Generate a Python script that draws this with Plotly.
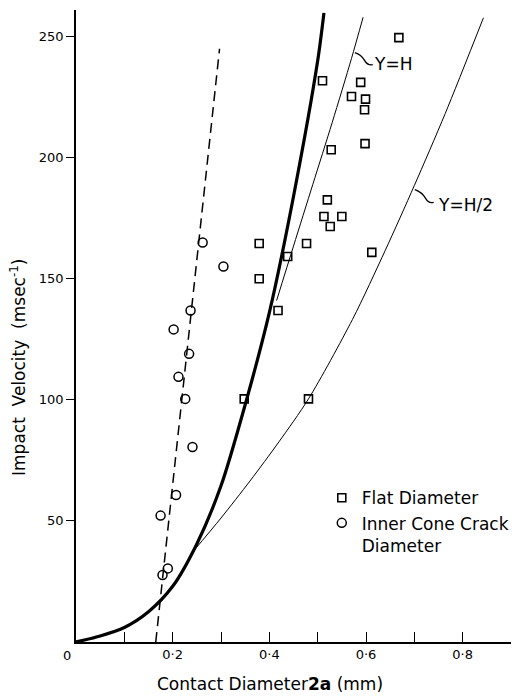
import plotly.graph_objects as go

# ---------------- data ----------------
# Flat diameter (squares)
flat_x = [0.668, 0.510, 0.589, 0.570, 0.599, 0.597, 0.528, 0.598, 0.520, 0.513,
          0.550, 0.526, 0.379, 0.477, 0.612, 0.438, 0.379, 0.418, 0.348, 0.481]
flat_y = [249.6, 231.8, 231.1, 225.3, 224.2, 219.8, 203.3, 205.8, 182.6, 175.7,
          175.7, 171.6, 164.6, 164.6, 160.9, 159.2, 150.0, 136.9, 100.4, 100.4]

# Inner cone crack diameter (circles)
cone_x = [0.262, 0.305, 0.237, 0.202, 0.234, 0.212, 0.226, 0.241, 0.207, 0.175, 0.190, 0.179]
cone_y = [165.0, 155.1, 136.9, 129.1, 119.0, 109.5, 100.4, 80.5, 60.7, 52.2, 30.4, 27.7]

# Theoretical (thick) curve
thick_x = [0.0, 0.05, 0.10, 0.15, 0.20, 0.25, 0.30, 0.35, 0.40, 0.45, 0.50, 0.513]
thick_y = [0.0, 2.5, 6.0, 12.5, 23.0, 40.5, 64.5, 98.0, 136.0, 184.0, 240.0, 259.8]

# Y = H curve
yh_x = [0.415, 0.450, 0.490, 0.530, 0.570, 0.594]
yh_y = [141.0, 163.5, 189.0, 214.5, 241.0, 258.0]

# Y = H/2 curve
yh2_x = [0.242, 0.300, 0.360, 0.420, 0.481, 0.572, 0.640, 0.700, 0.764, 0.843]
yh2_y = [37.3, 51.2, 66.5, 82.7, 100.4, 133.2, 161.8, 188.5, 218.3, 257.8]

# dashed fit through cone crack data
dash_x = [0.165, 0.297]
dash_y = [0.0, 245.0]

x_tickvals = [0.2, 0.4, 0.6, 0.8]
x_ticktext = ["0·2", "0·4", "0·6", "0·8"]
y_tickvals = [50, 100, 150, 200, 250]
y_ticktext = ["50", "100", "150", "200", "250"]

FONT = "DejaVu Sans"
NB = "\u00a0"

fig = go.Figure()

fig.add_trace(go.Scatter(x=thick_x, y=thick_y, mode="lines",
                         line=dict(color="black", width=3.2, shape="spline", smoothing=0.8),
                         showlegend=False, hoverinfo="skip"))
fig.add_trace(go.Scatter(x=yh_x, y=yh_y, mode="lines",
                         line=dict(color="black", width=1, shape="spline", smoothing=0.8),
                         showlegend=False, hoverinfo="skip"))
fig.add_trace(go.Scatter(x=yh2_x, y=yh2_y, mode="lines",
                         line=dict(color="black", width=1, shape="spline", smoothing=0.8),
                         showlegend=False, hoverinfo="skip"))
fig.add_trace(go.Scatter(x=dash_x, y=dash_y, mode="lines",
                         line=dict(color="black", width=1.5, dash="10px,6px"),
                         showlegend=False, hoverinfo="skip"))

fig.add_trace(go.Scatter(x=flat_x, y=flat_y, mode="markers", name="Flat Diameter",
                         marker=dict(symbol="square-open", size=8, color="black",
                                     line=dict(width=1.6, color="black"))))
fig.add_trace(go.Scatter(x=cone_x, y=cone_y, mode="markers",
                         name="Inner Cone Crack<br>Diameter",
                         marker=dict(symbol="circle-open", size=9, color="black",
                                     line=dict(width=1.5, color="black"))))

# hooks pointing at the curves
shapes = [
    dict(type="path", xref="x", yref="y",
         path="M 0.577,243.4 Q 0.590,242.6 0.597,240.2 Q 0.603,238.0 0.614,238.4",
         line=dict(color="black", width=1.3)),
    dict(type="path", xref="x", yref="y",
         path="M 0.701,186.8 Q 0.716,185.8 0.724,183.0 Q 0.730,181.0 0.740,181.6",
         line=dict(color="black", width=1.3)),
]

annotations = [
    dict(x=0.655, y=238.8, xref="x", yref="y", text="Y=H", showarrow=False,
         font=dict(family=FONT, size=17, color="black"), xanchor="center", yanchor="middle"),
    dict(x=0.805, y=180.6, xref="x", yref="y", text="Y=H/2", showarrow=False,
         font=dict(family=FONT, size=17, color="black"), xanchor="center", yanchor="middle"),
    dict(x=0.0, y=0.0, xref="x", yref="y", text="0", showarrow=False,
         font=dict(family=FONT, size=13, color="black"), xanchor="center", yanchor="top",
         xshift=-9, yshift=-4),
    dict(x=0.402, y=-0.0665, xref="x", yref="paper",
         text="Contact Diameter<b>2a</b> (mm)", showarrow=False,
         font=dict(family=FONT, size=17, color="black"), xanchor="center", yanchor="middle"),
    dict(x=-0.135, y=0.434, xref="paper", yref="paper",
         text=f"Impact{NB}{NB}Velocity{NB}{NB}(msec<sup>-1</sup>)", showarrow=False,
         textangle=-90,
         font=dict(family=FONT, size=17, color="black"), xanchor="center", yanchor="middle"),
]

fig.update_layout(
    width=524, height=696,
    margin=dict(l=76, r=11, t=10, b=54),
    paper_bgcolor="white", plot_bgcolor="white",
    font=dict(family=FONT, size=13, color="black"),
    shapes=shapes, annotations=annotations,
    showlegend=True,
    legend=dict(x=0.565, y=0.256, xanchor="left", yanchor="top",
                bgcolor="rgba(0,0,0,0)", borderwidth=0, valign="top",
                font=dict(family=FONT, size=17, color="black"),
                itemwidth=30, tracegroupgap=0),
    xaxis=dict(range=[0, 0.9], showline=True, linecolor="black", linewidth=1.5,
               ticks="inside", ticklen=10, tickwidth=1.3, tickcolor="black",
               tickvals=x_tickvals, ticktext=x_ticktext, showgrid=False, zeroline=False,
               minor=dict(ticks="inside", ticklen=10, tickwidth=1.3, tickcolor="black",
                          tick0=0.1, dtick=0.1, showgrid=False),
               tickfont=dict(family=FONT, size=13, color="black")),
    yaxis=dict(range=[0, 261], showline=True, linecolor="black", linewidth=1.5,
               ticks="outside", ticklen=8, tickwidth=1.3, tickcolor="black",
               tickvals=y_tickvals, ticktext=y_ticktext, showgrid=False, zeroline=False,
               tickfont=dict(family=FONT, size=13, color="black")),
)

fig.write_html("out.html")
